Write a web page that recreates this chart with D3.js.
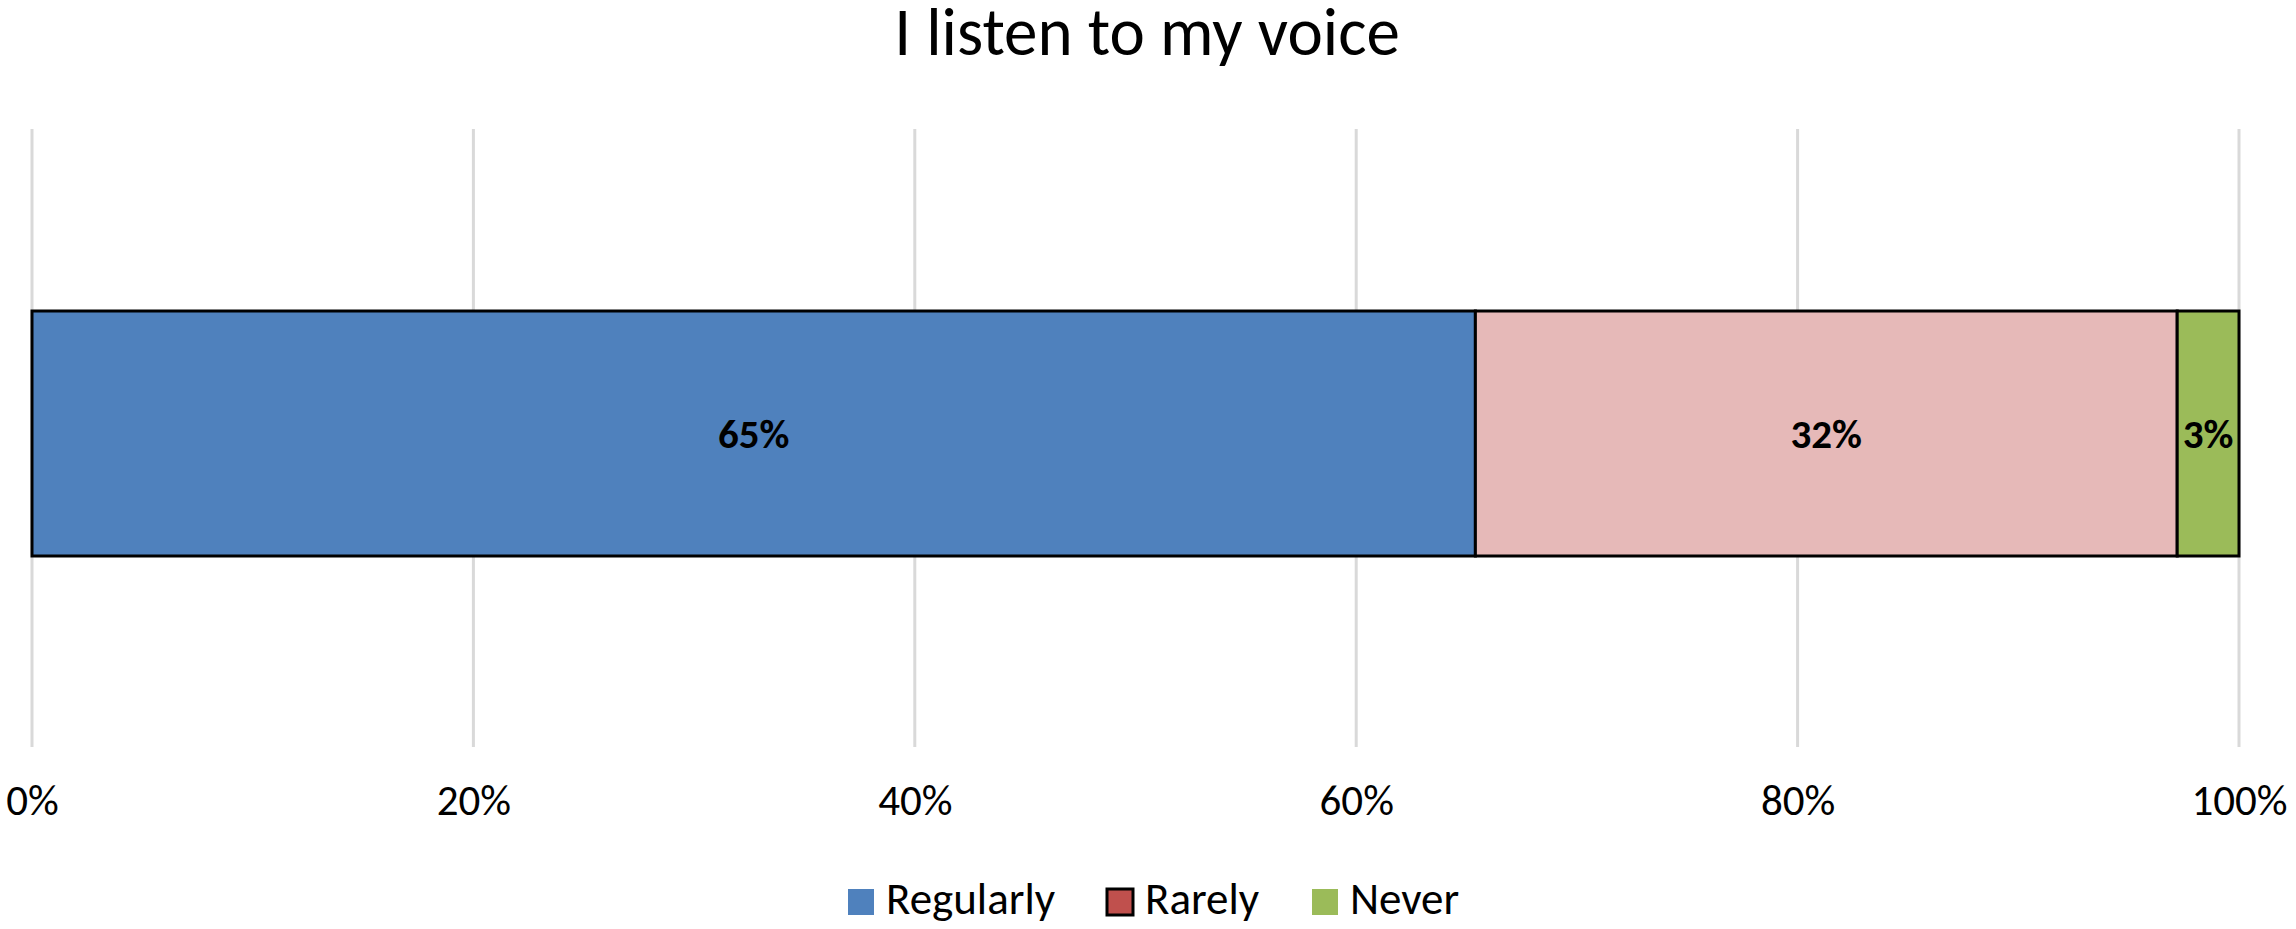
<!DOCTYPE html>
<html>
<head>
<meta charset="utf-8">
<script src="https://cdn.jsdelivr.net/npm/d3@7"></script>
<style>
  html, body { margin: 0; padding: 0; background: #fff; }
  svg { display: block; font-family: Calibri, Carlito, Lato, sans-serif; }
</style>
</head>
<body>
<svg id="chart" width="2296" height="929"></svg>
<script>
const title = "I listen to my voice";
const categories = ["I listen to my voice"];
const seriesNames = ["Regularly", "Rarely", "Never"];
const seriesValues = [0.654, 0.318, 0.028];
const seriesColors = ["#4f81bd", "#e6b9b8", "#9bbb59"];
const legendColors = ["#4f81bd", "#c0504d", "#9bbb59"];
const tickValues = [0, 0.2, 0.4, 0.6, 0.8, 1.0];

const W = 2296, H = 929;
const margin = { left: 32, right: 2296 - 2239, top: 129, bottom: 929 - 747 };
const svg = d3.select("#chart");

const x = d3.scaleLinear().domain([0, 1]).range([margin.left, W - margin.right]);
const y = d3.scaleBand().domain(categories).range([311, 556]).padding(0);

// gridlines
svg.append("g")
  .selectAll("line").data(tickValues).join("line")
  .attr("x1", d => x(d)).attr("x2", d => x(d))
  .attr("y1", margin.top).attr("y2", H - margin.bottom)
  .attr("stroke", "#d9d9d9").attr("stroke-width", 3);

// tick labels via axis
const axis = d3.axisBottom(x).tickValues(tickValues).tickFormat(d3.format(".0%")).tickSize(0).tickPadding(0);
const ag = svg.append("g").attr("transform", `translate(0, 815)`).call(axis);
ag.select(".domain").remove();
ag.selectAll("text").attr("dy", 0).attr("font-size", 43).attr("fill", "#000")
  .style("font-family", "Calibri, Carlito, Lato, sans-serif");

// stacked bar
let cum = 0;
const stack = seriesValues.map((v, i) => { const s = { name: seriesNames[i], x0: cum, x1: cum + v, v, color: seriesColors[i] }; cum += v; return s; });

const bars = svg.append("g");
bars.selectAll("rect").data(stack).join("rect")
  .attr("x", d => x(d.x0)).attr("width", d => x(d.x1) - x(d.x0))
  .attr("y", y(categories[0])).attr("height", y.bandwidth())
  .attr("fill", d => d.color).attr("stroke", "#000").attr("stroke-width", 3);

bars.selectAll("text").data(stack).join("text")
  .attr("x", d => (x(d.x0) + x(d.x1)) / 2)
  .attr("y", y(categories[0]) + y.bandwidth() / 2)
  .attr("dy", "0.35em")
  .attr("text-anchor", "middle")
  .attr("font-size", 41).attr("font-weight", "bold").attr("fill", "#000")
  .text(d => d3.format(".0%")(d.v));

// title
svg.append("text").attr("x", 1147).attr("y", 55).attr("text-anchor", "middle")
  .attr("font-size", 67).attr("fill", "#000").text(title);

// legend
const legendX = [848, 1107, 1312];
const lg = svg.append("g");
seriesNames.forEach((name, i) => {
  const g = lg.append("g").attr("transform", `translate(${legendX[i]}, 889)`);
  g.append("rect").attr("width", 26).attr("height", 26)
    .attr("fill", legendColors[i])
    .attr("stroke", i === 1 ? "#000" : "none").attr("stroke-width", 3);
  g.append("text").attr("x", 38).attr("y", 25).attr("font-size", 45).attr("fill", "#000").text(name);
});
</script>
</body>
</html>
